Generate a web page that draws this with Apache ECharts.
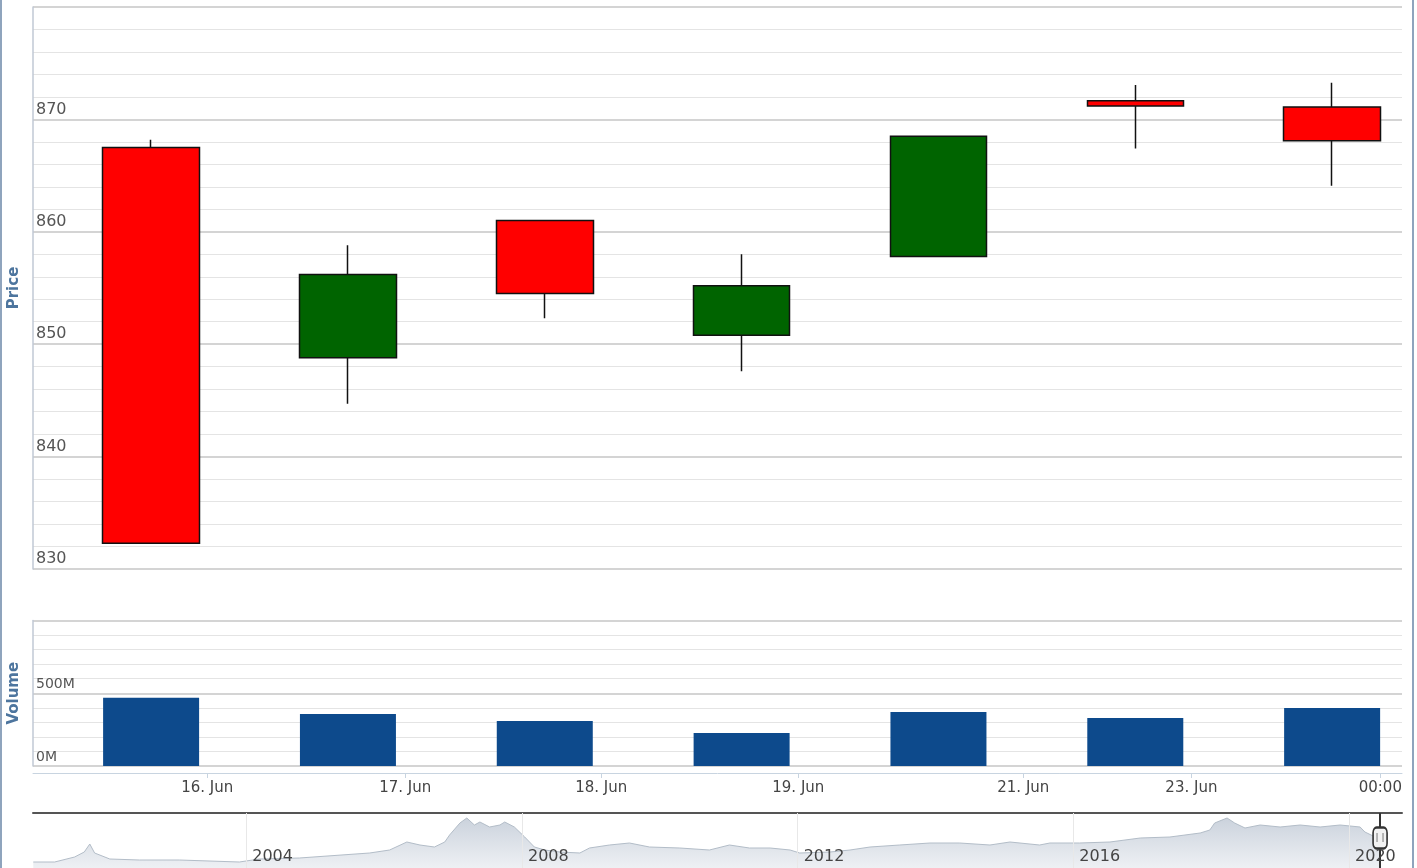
<!DOCTYPE html>
<html><head><meta charset="utf-8">
<script src="https://cdn.jsdelivr.net/npm/echarts@6/dist/echarts.min.js"></script>
<style>html,body{margin:0;padding:0;background:#fff}#c{width:1417px;height:868px}</style>
</head><body><div id="c"></div>
<script>
// ---- data ----
const categories = ['16 Jun', '17 Jun', '18 Jun', '19 Jun', '20 Jun', '22 Jun', '24 Jun'];
const dayIndex   = [0, 1, 2, 3, 4, 5, 6];
const openVals   = [867.5, 848.8, 861.0, 850.8, 857.8, 871.65, 871.1];
const closeVals  = [832.3, 856.2, 854.5, 855.2, 868.5, 871.2, 868.1];
const lowVals    = [832.3, 844.7, 852.3, 847.6, 857.8, 867.4, 864.1];
const highVals   = [868.2, 858.8, 861.0, 858.0, 868.5, 873.05, 873.25];
const volumeVals = [469e6, 357e6, 309e6, 227e6, 371e6, 330e6, 399e6];
const xTickLabels    = ['16. Jun', '17. Jun', '18. Jun', '19. Jun', '21. Jun', '23. Jun', '00:00'];
const xTickPositions = [0.285, 1.291, 2.287, 3.288, 4.431, 5.285, 6.245];
const navYears  = [2000.91, 2001.22, 2001.51, 2001.65, 2001.73, 2001.80, 2002.02, 2002.45, 2003.03, 2003.90,
  2004.19, 2004.77, 2005.79, 2006.08, 2006.33, 2006.52, 2006.73, 2006.88, 2006.95, 2007.10,
  2007.20, 2007.31, 2007.39, 2007.53, 2007.68, 2007.75, 2007.89, 2008.04, 2008.18, 2008.33,
  2008.55, 2008.84, 2008.98, 2009.27, 2009.56, 2009.85, 2010.29, 2010.72, 2011.01, 2011.30,
  2011.60, 2011.89, 2012.03, 2012.47, 2012.76, 2013.05, 2013.48, 2013.92, 2014.35, 2014.79,
  2015.08, 2015.51, 2015.66, 2016.09, 2016.53, 2016.97, 2017.40, 2017.84, 2017.98, 2018.05,
  2018.23, 2018.34, 2018.49, 2018.71, 2019.00, 2019.29, 2019.58, 2019.87, 2020.16, 2020.23,
  2020.38, 2020.45];
const navValues = [6, 6, 11, 16, 24, 15, 9, 8, 8, 6,
  9, 10, 15, 18, 26, 23, 21, 26, 33, 45,
  50, 43, 46, 41, 43, 46, 41, 31, 21, 18,
  16, 15, 20, 23, 25, 21, 20, 18, 23, 20,
  20, 18, 15, 16, 18, 21, 23, 25, 25, 23,
  26, 23, 25, 25, 26, 30, 31, 35, 38, 45,
  50, 45, 40, 43, 41, 43, 41, 43, 41, 36,
  31, 33];
const navTickYears = [2004, 2008, 2012, 2016, 2020];
const navSelection = 2020.45;

// ---- chart ----
const FONT = 'DejaVu Sans';
const labelMap = new Map(xTickPositions.map((p, i) => [p, xTickLabels[i]]));
const chart = echarts.init(document.getElementById('c'), null, {renderer: 'canvas'});

const candleData = dayIndex.map(i => [dayIndex[i], openVals[i], closeVals[i], lowVals[i], highVals[i]]);
const volData = dayIndex.map(i => [dayIndex[i], volumeVals[i]]);
const navData = navYears.map((y, i) => [y, navValues[i]]);

const option = {
  animation: false,
  backgroundColor: '#ffffff',
  textStyle: {fontFamily: FONT},
  grid: [
    {left: 33, right: 15, top: 7, height: 562, outerBoundsMode: 'none', containLabel: false},
    {left: 33, right: 15, top: 620.5, height: 145.5, outerBoundsMode: 'none', containLabel: false},
    {left: 33, right: 15, top: 813, height: 55, outerBoundsMode: 'none', containLabel: false}
  ],
  xAxis: [
    {type: 'value', gridIndex: 0, min: -0.6, max: 6.355, show: false},
    {type: 'value', gridIndex: 1, min: -0.6, max: 6.355, offset: 7,
      axisLine: {show: true, onZero: false, lineStyle: {color: '#c8d4e0', width: 1}},
      axisTick: {show: true, customValues: xTickPositions, length: 5, lineStyle: {color: '#c8d4e0'}},
      axisLabel: {customValues: xTickPositions, formatter: v => labelMap.get(v) || '',
        color: '#444', fontSize: 15, fontFamily: FONT, margin: 8},
      splitLine: {show: false}},
    {type: 'value', gridIndex: 2, min: 2000.906, max: 2020.768, position: 'bottom', z: 10,
      axisLine: {show: false},
      axisTick: {show: false, customValues: navTickYears},
      splitLine: {show: true, lineStyle: {color: '#e8e8e8', width: 1}},
      axisLabel: {inside: true, customValues: navTickYears, align: 'left', padding: [0, 0, 0, 6],
        verticalAlign: 'bottom', margin: 3, color: '#444', fontSize: 16, fontFamily: FONT,
        formatter: v => String(Math.round(v))}},
    {type: 'value', gridIndex: 2, min: 2000.906, max: 2020.768, position: 'top',
      axisLine: {show: true, onZero: false, lineStyle: {color: '#555', width: 2}},
      axisTick: {show: false}, axisLabel: {show: false}, splitLine: {show: false}}
  ],
  yAxis: [
    {type: 'value', gridIndex: 0, min: 830, max: 880, interval: 10,
      name: 'Price', nameLocation: 'middle', nameRotate: 90, nameGap: 11,
      nameTextStyle: {color: '#4d759e', fontWeight: 'bold', fontSize: 15, fontFamily: FONT},
      axisLine: {show: true, onZero: false, lineStyle: {color: '#c0c8d4', width: 1.5}},
      axisTick: {show: false},
      axisLabel: {inside: true, margin: 3, verticalAlign: 'bottom', padding: [0, 0, 2, 0],
        color: '#555', fontSize: 16, fontFamily: FONT, showMaxLabel: false},
      splitLine: {show: true, lineStyle: {color: '#c6c6c6', width: 1.5}},
      minorTick: {show: false, splitNumber: 5},
      minorSplitLine: {show: true, lineStyle: {color: '#e4e4e4', width: 1.2}}},
    {type: 'value', gridIndex: 1, min: 0, max: 1e9, interval: 5e8,
      name: 'Volume', nameLocation: 'middle', nameRotate: 90, nameGap: 11,
      nameTextStyle: {color: '#4d759e', fontWeight: 'bold', fontSize: 15, fontFamily: FONT},
      axisLine: {show: true, onZero: false, lineStyle: {color: '#c0c8d4', width: 1.5}},
      axisTick: {show: false},
      axisLabel: {inside: true, margin: 3, verticalAlign: 'bottom', padding: [0, 0, 2, 0],
        color: '#555', fontSize: 14, fontFamily: FONT, showMaxLabel: false,
        formatter: v => (v / 1e6) + 'M'},
      splitLine: {show: true, lineStyle: {color: '#c6c6c6', width: 1.5}},
      minorTick: {show: false, splitNumber: 5},
      minorSplitLine: {show: true, lineStyle: {color: '#e4e4e4', width: 1.2}}},
    {type: 'value', gridIndex: 2, min: 0, max: 55, show: false}
  ],
  series: [
    {type: 'candlestick', name: 'Price', xAxisIndex: 0, yAxisIndex: 0, data: candleData,
      barWidth: 97,
      itemStyle: {color: '#006400', color0: '#ff0000', borderColor: '#111', borderColor0: '#111', borderWidth: 1.5}},
    {type: 'bar', name: 'Volume', xAxisIndex: 1, yAxisIndex: 1, data: volData, barWidth: 96,
      itemStyle: {color: '#0d4a8c'}},
    {type: 'line', name: 'Navigator', xAxisIndex: 2, yAxisIndex: 2, data: navData,
      showSymbol: false, smooth: false,
      lineStyle: {color: '#b3bdc8', width: 1},
      areaStyle: {color: {type: 'linear', x: 0, y: 0, x2: 0, y2: 1,
        colorStops: [{offset: 0, color: 'rgba(172,184,200,0.9)'}, {offset: 1, color: 'rgba(226,230,236,0.85)'}]}},
      markLine: {silent: true, symbol: 'none', label: {show: false},
        lineStyle: {color: '#333', width: 2, type: 'solid'},
        data: [{xAxis: navSelection}]},
      markPoint: {silent: true, symbol: 'roundRect', symbolSize: [14, 21],
        itemStyle: {color: '#f2f2f2', borderColor: '#333', borderWidth: 2},
        label: {show: true, formatter: '| |', color: '#555', fontSize: 9, fontFamily: FONT},
        data: [{coord: [navSelection, 30]}]}}
  ],
  graphic: [
    {type: 'line', shape: {x1: 1, y1: 0, x2: 1, y2: 868}, style: {stroke: '#8fa4bd', lineWidth: 2}},
    {type: 'line', shape: {x1: 1413, y1: 0, x2: 1413, y2: 868}, style: {stroke: '#8fa4bd', lineWidth: 2}}
  ]
};
chart.setOption(option);
</script>
</body></html>
